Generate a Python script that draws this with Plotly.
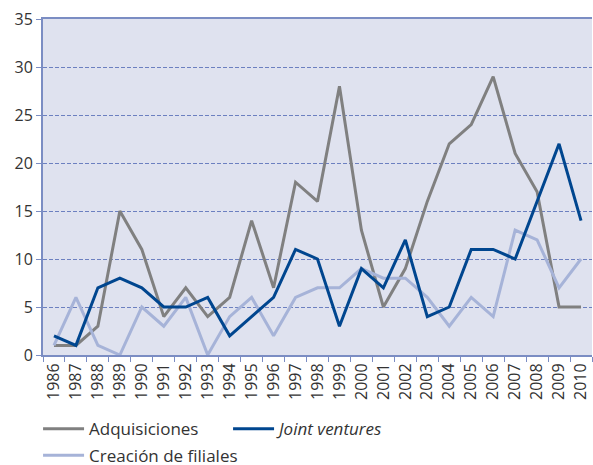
import plotly.graph_objects as go

years = [str(y) for y in range(1986, 2011)]
adquisiciones = [1, 1, 3, 15, 11, 4, 7, 4, 6, 14, 7, 18, 16, 28, 13, 5, 9, 16, 22, 24, 29, 21, 17, 5, 5]
joint_ventures = [2, 1, 7, 8, 7, 5, 5, 6, 2, 4, 6, 11, 10, 3, 9, 7, 12, 4, 5, 11, 11, 10, 16, 22, 14]
filiales = [1, 6, 1, 0, 5, 3, 6, 0, 4, 6, 2, 6, 7, 7, 9, 8, 8, 6, 3, 6, 4, 13, 12, 7, 10]

AXIS = "#7b8dc3"
TXT = "#333333"
fig = go.Figure()
fig.add_trace(go.Scatter(x=years, y=adquisiciones, mode="lines", name="Adquisiciones",
                         line=dict(color="#808080", width=3), legend="legend"))
fig.add_trace(go.Scatter(x=years, y=filiales, mode="lines", name="Creación de filiales",
                         line=dict(color="#a6b3d8", width=3), legend="legend2"))
fig.add_trace(go.Scatter(x=years, y=joint_ventures, mode="lines", name="<i>Joint ventures</i>",
                         line=dict(color="#00468f", width=3), legend="legend"))

fig.update_layout(
    width=593, height=465,
    margin=dict(l=43, r=1, t=19, b=110, autoexpand=False),
    paper_bgcolor="white", plot_bgcolor="#dfe2ef",
    font=dict(family="Open Sans", size=16, color=TXT),
    legend=dict(orientation="h", x=-0.009, xanchor="left", y=-0.167, yanchor="top",
                entrywidth=134, entrywidthmode="pixels", itemwidth=41,
                font=dict(size=17, color=TXT), bgcolor="rgba(0,0,0,0)"),
    legend2=dict(orientation="h", x=-0.009, xanchor="left", y=-0.246, yanchor="top",
                 itemwidth=41,
                 font=dict(size=17, color=TXT), bgcolor="rgba(0,0,0,0)"),
    showlegend=True,
)
fig.update_xaxes(type="category", range=[-0.5, 24.5], tickangle=-90, tickson="boundaries",
                 ticks="outside", ticklen=5, tickcolor=AXIS, tickwidth=1,
                 showline=True, linecolor=AXIS, linewidth=2, mirror=True,
                 showgrid=False, tickfont=dict(size=16, color=TXT))
fig.update_yaxes(range=[0, 35], dtick=5, ticks="outside", ticklen=5, tickcolor=AXIS,
                 showline=True, linecolor=AXIS, linewidth=2,
                 showgrid=True, gridcolor="#6c80c0", griddash="4px,2px", gridwidth=1,
                 zeroline=False, tickfont=dict(size=16, color=TXT))

fig.write_html("out.html", config={"displayModeBar": False})

# remove the browser's default page margin so the figure sits at the window origin
with open("out.html", "r", encoding="utf-8") as f:
    html = f.read()
html = html.replace("<head>", "<head><style>html,body{margin:0;padding:0;overflow:hidden;}</style>", 1)
with open("out.html", "w", encoding="utf-8") as f:
    f.write(html)
